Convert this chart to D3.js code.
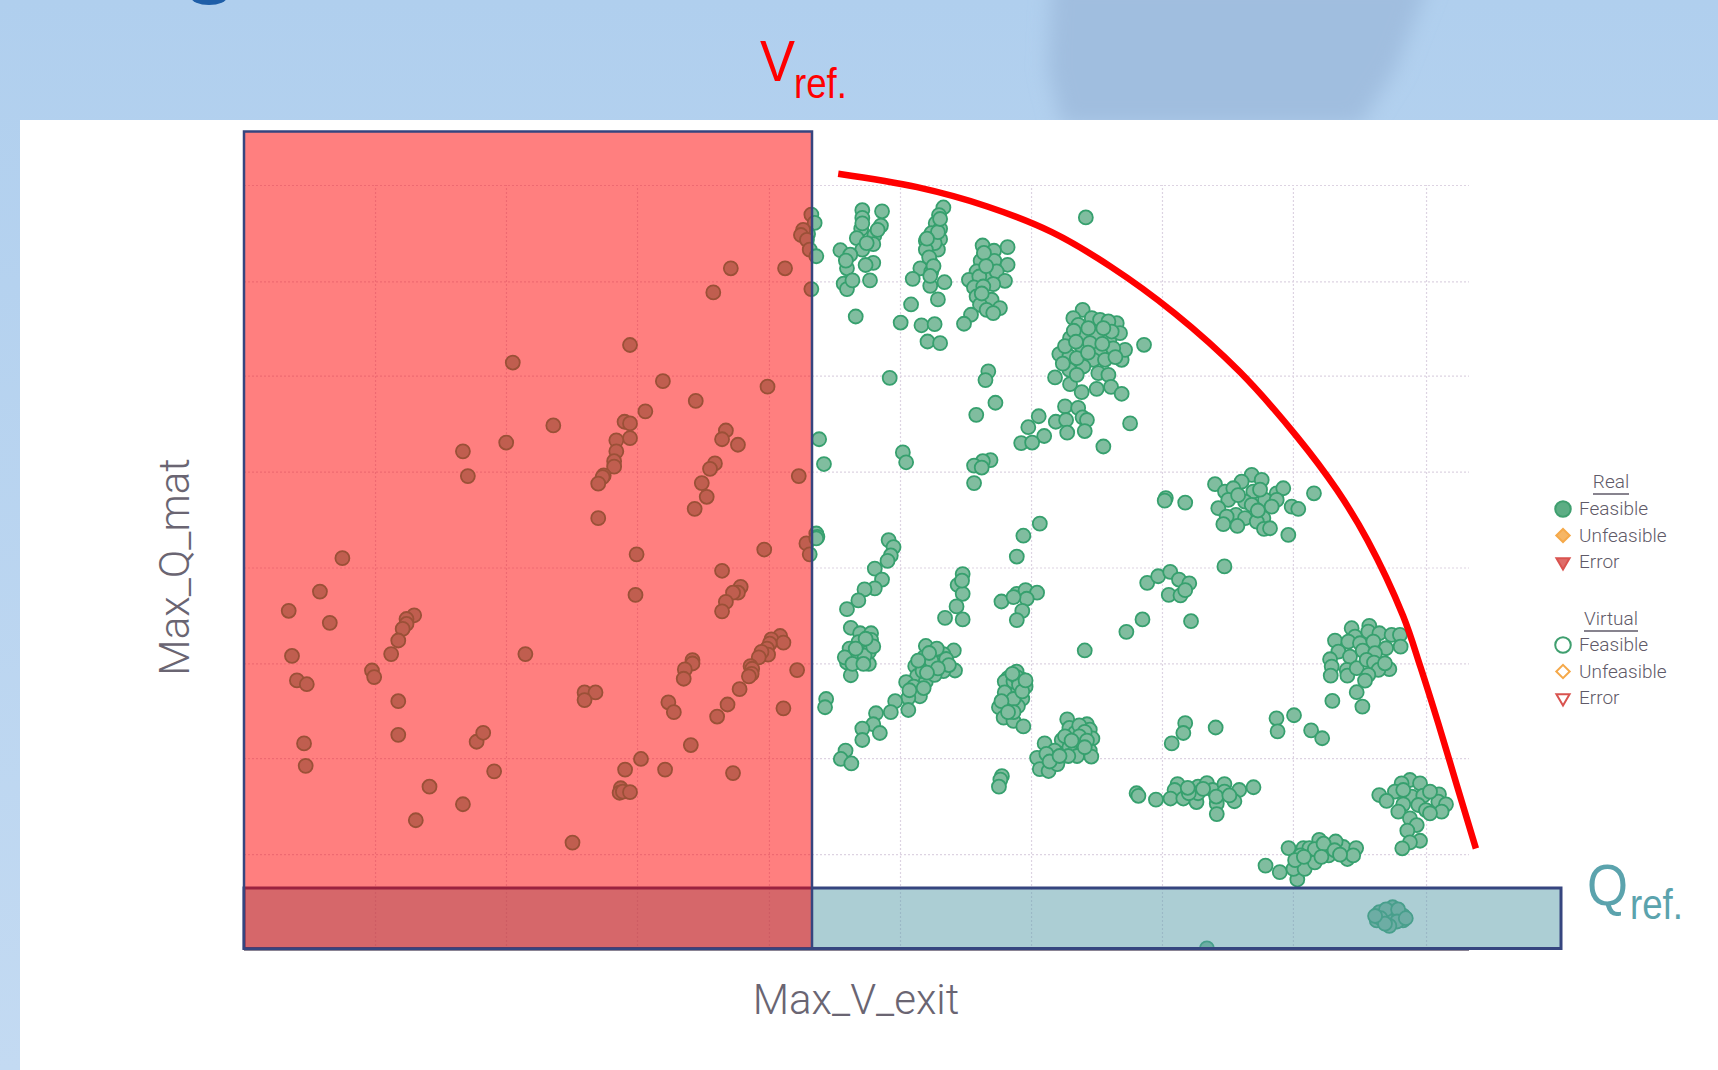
<!DOCTYPE html>
<html>
<head>
<meta charset="utf-8">
<script src="https://cdn.jsdelivr.net/npm/d3@7"></script>
<style>
  html, body { margin: 0; padding: 0; background: #fff; overflow: hidden; }
  svg { display: block; }
  .grid line { stroke: #ddd3e2; stroke-width: 1.2; stroke-dasharray: 2 2; }
  .grid path { display: none; }
  .legend text { font-family: Roboto, sans-serif; font-weight: 300; font-size: 19px; fill: #5f5a68; }
</style>
</head>
<body>
<script>
let w = 1718;
let h = 1070;

// no tick labels in the picture, so values are in units (y grows downward)
let vTicks = [342.3, 461.8, 581.4, 701.8, 821.4, 941, 1060.5, 1180, 1301.5];
let qTicks = [169, 257, 343, 430.5, 518, 605.5, 692, 779.5];

let limitCurve = [[765,158.7],[837,171],[901,188.6],[960,212],[1013,243],[1072,286],[1131,339],[1184,399],[1220,447],[1248,493],[1280.5,562],[1296.5,609],[1312.6,660],[1330,718],[1347,774.4]];

// inside the V_ref. band
let ptsLeft = [[312.5,509.5],[292,540],[263.5,557.5],[301,568.5],[378,561.6],[371,565],[371,569.5],[367.5,574],[363.5,584.6],[357,597],[266.5,598.7],[479.5,597],[339.5,612],[341.5,618],[271,621],[280,624.5],[363.5,640],[363.5,670.7],[277.5,678.5],[279,699],[435,677],[441,668.8],[451,704],[392,718],[422.5,734],[379.5,748.6],[522.5,769],[581,506],[580,543],[659,521],[697.5,501.6],[676,535.6],[673.5,541],[669,541],[662.5,549.4],[659,558],[712,580.5],[704,583.6],[715,586.5],[702.5,587.4],[700,592],[701,597.5],[695,595],[692.5,600],[685,608],[686.5,610.4],[686,615],[683.5,617.3],[727.5,611.6],[632,602.5],[632,605.6],[625,611],[624,619.5],[675,629],[664,643],[654.5,654],[715,646.5],[533.5,632],[543.5,632],[533.5,639],[610,641],[615,650],[630.5,680],[585,692.7],[570.5,702.4],[607,702.4],[669,705.6],[566.5,719.4],[565.5,723.5],[568.5,722.5],[575,723],
  [570,385],[575,386.5],[575,400],[562.5,402],[562.5,412],[560.5,421],[560.5,426],[551,434],[550,435.5],[546,441.5],[546,473],[589,375.5],[605,348],[635,366],[662.5,393],[659,401],[673.5,406],[652.5,423],[648,428],[640.5,441],[645,453.5],[634,464.5],[729,434.6],[700.5,353],[575,315],[468,331],[505,388.4],[462,404],[422.5,412],[427,434.6],[651,267],[667,245],[716.5,245],
  [740.5,196],[743.5,203.6],[737.5,213.7],[733,210],[731,214.6],[736.5,219],[739,228],[745,234],[740.5,264],[745,487],[746,490],[736,496],[745,491.5],[739,506]];

// upper part of the right side
let ptsUpper = [[787,192],[787,199],[805,193],[804,206],[786,209],[782,217.5],[798,215],[797,223],[787,228],[767,228.5],[776,232.6],[797,240],[790,242],[773,245],[770,259],[773,264],[778,256],[794,256],[772,238],[787,204],[801,210],[791,222],
  [861,189.5],[857,196.4],[854,204],[858,209],[845,220],[858,218.4],[856,228],[849,239],[840,245],[850,248],[833,254.6],[849,261],[862,257.7],[856,273.4],[831.5,278],[822,294.5],[841,297],[853,296],[846.5,311.8],[858,313.3],[781,289],[850,213],[853,222],[845,228],[856,212],[848,235],[852,243],[846,218],[858,200],[849,252],
  [896.8,224.2],[907.2,229],[919.6,225.7],[895,238.2],[907.5,238.2],[919.6,241.8],[891.3,247.9],[902,250.9],[909.6,247.9],[884.3,255.5],[893.8,252.5],[917.2,256.4],[888.9,262.5],[906.5,259.5],[897.4,261.6],[891.3,270.7],[905,273.7],[894.4,278.3],[912.6,281.3],[900.5,282.9],[906.5,285.9],[886.2,287.4],[879.8,295.6],[898,231],[900,243],[896,268],
  [988.1,282.9],[979.6,290.5],[984.2,296.6],[996.4,290.5],[1019.2,295.1],[1004,292],[1011.6,293.5],[976.6,308.7],[988.7,307.2],[1000.9,305.7],[1012.5,310.3],[1022.2,304.2],[987.2,316.3],[966.8,323.3],[976,325.5],[1004,320.9],[997.9,328.5],[1023.7,328.5],[1026.8,319.4],[988.7,334.6],[976,337.6],[1002.4,340.7],[1011.6,342.2],[962.9,344.6],[976.6,350.7],[987.2,358],[1000.9,355],[1014,353.2],[1023.7,359.5],[1044.1,314.8],[994.8,313.3],[1008.5,328.5],[982.7,327],[1014.6,302.7],[993.3,299.6],[1007,299.6],[982.7,342.2],[972,316],[980,302],[1016,318],[993,322],[982,312],[1006,314],[1018,326],[970,332],
  [972,371],[984,372.4],[948,380],[938.5,390],[963.6,385],[973,383.4],[988,381],[992,383.4],[974,395],[990,393.5],[953,398],[932,404.5],[942,404],[1031.4,386.5],[1007,407.6],
  [812,345],[902,339],[899.4,347],[908.5,367.7],[891,378.7],[747.6,401],[752,423.6],[824,413],[827,422],[904,420],[897,421],[889,425],[896,426.8],[889,441],[991,198.6],
  [1142.4,433.5],[1151.5,438.1],[1108.9,442],[1133.2,439.6],[1118,448.7],[1125.6,445.7],[1143.9,448.7],[1165.2,450.3],[1171.2,445.7],[1154.5,456.3],[1121,456.3],[1136.3,457.9],[1165.2,456.3],[1111.9,463.9],[1142.4,460.9],[1160.6,462.4],[1128,470],[1136.3,473],[1119.5,471.5],[1153,473],[1116.5,478.5],[1129.3,480.1],[1147,476.1],[1153.6,482.8],[1159.1,482.2],[1178.9,462.4],[1184.9,464.6],[1199.2,450.3],[1175.8,488.3],[1064,454.7],[1063,457],[1081.7,458.8],[1150,447],[1130,452],[1148,466]];

// lower part of the right side
let ptsLower = [[811,493],[815.5,499.4],[813,507],[810,512],[798.4,519],[805,529],[798.4,537],[789,538],[783.4,548],[773,556],[934,489],[928,508],[949,478],[1117.5,517],
  [878.6,524],[874,534],[878.6,542],[873,553.5],[862.5,564],[878.6,565.4],[878,530],[914,549],[928,542],[936,538.7],[946.5,541],[937,546.5],[933,557.6],[928,566],[925,545],
  [1047,532],[1057,526],[1068,522],[1076,529],[1085.4,532.4],[1066.7,543],[1077.4,543.4],[1081.7,538.7],[1042.7,565.4],[1028,576.7],[1087,567],[990,593.7],
  [776.5,573],[785,578],[795,578],[795,584],[783.5,586],[775.4,592],[786,592],[793,595],[773,604.7],[783.5,603],[793,606],[776.5,616.3],[779,598.4],[789,598.4],[771,600],[778,606],[788,606],[797,590],[790,583],[781,592],
  [870.5,593.7],[845,589.6],[861,597],[843.3,600],[858.3,604.7],[871.6,612],[835.3,608],[850,609.4],[861,612.5],[837,617],[827,622.6],[845,622],[834,626.7],[839.6,635.5],[829,637],[817,640],[813,650],[829,648],[799.5,651],[797,661],[787,665],[803,669],[787,675.4],[754,638],[753,645.5],[771.7,685],[767.4,692.7],[777,696.8],[853,616],[842,612.5],[863.6,601.5],[850,603],[855,592],[848,596],[866,607],[856,610],[846,614],[838,603],[830,630],[843,628],
  [927.8,613],[920,619],[933,620.4],[936,626.7],[922.4,630],[929,630],[933,637.7],[920,637.7],[911.7,645.5],[929,644.6],[916,655],[925,658],[934,663],[921,645.5],[917,622],[925,622],[928,618],[930,625],[917,632],[925,638],[914,640],[933,631],[925,650],[920,650],[936,621],[924,615],
  [974,656.5],[992,661],[976,664.4],[994.6,666],[981,669],[997,674],[953.4,678.5],[969,675.4],[987.6,678.5],[976,682],[994.6,685],[962.5,685],[983,690],[996,690.5],[946.5,691.7],[961.4,692.7],[949,702],[957,703.7],[965,697.4],[914.4,708.4],[913,711.5],[911.7,718],[985,662],[990,668],[985,672],[992,676],[972,672],[978,676],[990,682],[955,688],[958,695],[975,690],[967,690],
  [1081.7,660],[1080,669],[1069.4,678.5],[1109.5,664],[1165,655.6],[1181,652.8],[1166,667.5],[1196.6,666.6],[1206.7,673.8],
  [1233.6,573.4],[1249.7,571.3],[1218.4,584.7],[1236.7,581],[1248.8,576.5],[1258.9,578],[1270.1,579.5],[1277.7,579.5],[1278.3,590.2],[1230.6,585.6],[1241.2,587.1],[1253.4,585.6],[1265,591.7],[1221.5,594.7],[1232.1,599.3],[1243.7,593.8],[1254.9,596.2],[1213.9,601.7],[1215.4,608.4],[1214.5,616.6],[1229.1,611.5],[1229.7,616.6],[1238.2,609.9],[1247.3,602.3],[1254,604.8],[1268,610.8],[1258,611.5],[1248.8,616],[1245.8,621.2],[1238.2,631.8],[1216,639.7],[1243.4,644.9],[1264,605.4],
  [1037.3,724],[1039,726.3],[1055,729.8],[1074.7,715.6],[1072,721],[1068.3,728.8],[1080,728.8],[1092,732],[1093.4,718],[1093.4,724],[1101.5,714.7],[1106.8,721],[1117.5,715.6],[1117.5,722.5],[1131,721],[1126.6,731.3],[1110.5,733.5],[1110.5,743],[1144,718.5],[1098,720],[1085,724],[1110,727],[1122,726],[1084,719],
  [1155,790],[1168,796],[1184,802.7],[1180.5,793],[1190.7,793],[1176,774],[1189.6,774],[1195,774],[1187,780.7],[1204,766.5],[1200,787],[1213.7,773],[1212.6,780.7],[1226,773],[1237.7,774],[1229.7,784],[1235,780.7],[1219,768],[1200,775],[1208,770],[1218,776],[1206,782],[1223,780],[1182,785],[1190,782],
  [1286.8,711.9],[1296,714.9],[1279.2,714.9],[1273.1,722.5],[1258.8,725.6],[1265.5,731],[1288.4,727.1],[1299,726.2],[1313.3,725],[1280.7,734.1],[1294.4,734.7],[1301.4,739.3],[1312.7,731.7],[1319.7,734.1],[1315.7,740.8],[1305.1,742.3],[1276.2,740.8],[1286.8,746.9],[1293,753],[1284.4,758.1],[1296,767.3],[1286.8,768.8],[1279.8,774.2],[1280.7,721],[1305.1,722.5],
  [1271,828],[1259,832.5],[1272.5,834],[1280.5,835.7],[1256.5,840],[1270,842],[1280.5,840],[1264.5,837],[1265,830],[1276,830],[1260,838],[1275,841],[1268,845],[1283,838],[1264,843],[1255,836],[1101.5,865.5]];

let legendReal = ["Feasible", "Unfeasible", "Error"];
let legendVirtual = ["Feasible", "Unfeasible", "Error"];
let legendColors = ["#3f9f6f", "#f5a94a", "#d9534f"];
let legendSymbols = [d3.symbolCircle, d3.symbolSquare, d3.symbolTriangle];

let svg = d3.select("body")
  .append("svg")
  .attr("width", w)
  .attr("height", h);

// Slide background
let defs = svg.append("defs");
let blur = defs.append("filter").attr("id", "blur")
  .attr("x", "-20%").attr("y", "-20%").attr("width", "140%").attr("height", "140%");
blur.append("feGaussianBlur").attr("stdDeviation", 10);
let strip = defs.append("linearGradient").attr("id", "strip")
  .attr("x1", 0).attr("y1", 0).attr("x2", 0).attr("y2", 1);
strip.append("stop").attr("offset", "0%").attr("stop-color", "#b0cfee");
strip.append("stop").attr("offset", "100%").attr("stop-color", "#c3daf2");

svg.append("rect").attr("width", w).attr("height", h).attr("fill", "url(#strip)");
svg.append("path")
  .attr("d", "M1052,-20 L1430,-20 L1395,70 L1360,125 L1062,125 L1048,70 Z")
  .attr("fill", "#a0bedf")
  .attr("filter", "url(#blur)");
svg.append("ellipse")
  .attr("cx", 209).attr("cy", -3).attr("rx", 18).attr("ry", 8)
  .attr("fill", "#1e5ea8");
svg.append("rect")
  .attr("x", 20).attr("y", 120)
  .attr("width", w-20).attr("height", h-120)
  .attr("fill", "#fff");

// Scales
let xScale = d3.scaleLinear().domain([222.7, 1340.7]).range([244, 1469]);
let yScale = d3.scaleLinear().domain([169, 867]).range([185, 950]);

defs.append("clipPath").attr("id", "plot")
  .append("rect")
  .attr("x", 234).attr("y", 175)
  .attr("width", 1245).attr("height", 775);

// Grid
let xAxis = d3.axisBottom(xScale)
  .tickValues(vTicks)
  .tickSize(yScale(169) - yScale(867))
  .tickFormat("");
let yAxis = d3.axisLeft(yScale)
  .tickValues(qTicks)
  .tickSize(xScale(222.7) - xScale(1340.7))
  .tickFormat("");

svg.append("g")
  .attr("class", "grid")
  .attr("transform", "translate(0," + yScale(867) + ")")
  .call(xAxis);
svg.append("g")
  .attr("class", "grid")
  .attr("transform", "translate(" + xScale(222.7) + ",0)")
  .call(yAxis);
svg.append("line")
  .attr("x1", xScale(222.7)).attr("x2", xScale(1340.7))
  .attr("y1", yScale(867)).attr("y2", yScale(867))
  .attr("stroke", "#8a8494").attr("stroke-width", 2);

// Points
svg.append("g")
  .attr("clip-path", "url(#plot)")
  .selectAll("circle")
  .data(ptsLeft.concat(ptsUpper, ptsLower))
  .enter()
  .append("circle")
  .attr("cx", (d) => { return xScale(d[0]); })
  .attr("cy", (d) => { return yScale(d[1]); })
  .attr("r", 7)
  .attr("fill", "#80bd9f")
  .attr("stroke", "#36a06e")
  .attr("stroke-width", 1.8);

// Reference bands, red goes over teal
svg.append("rect")
  .attr("x", xScale(222.7)).attr("y", 888)
  .attr("width", 1561 - xScale(222.7)).attr("height", 60.5)
  .attr("fill", "rgb(90,158,170)").attr("fill-opacity", 0.5)
  .attr("stroke", "#36457f").attr("stroke-width", 3);
svg.append("rect")
  .attr("x", xScale(222.7)).attr("y", 131.5)
  .attr("width", 812 - xScale(222.7)).attr("height", 817)
  .attr("fill", "rgb(255,0,0)").attr("fill-opacity", 0.5)
  .attr("stroke", "#36457f").attr("stroke-width", 2.5);

// Limit curve
let curve = d3.line()
  .x((d) => { return xScale(d[0]); })
  .y((d) => { return yScale(d[1]); })
  .curve(d3.curveCatmullRom);
svg.append("path")
  .datum(limitCurve)
  .attr("d", curve)
  .attr("fill", "none")
  .attr("stroke", "#ff0000")
  .attr("stroke-width", 6.5);

// Axis labels
svg.append("text")
  .attr("x", 856).attr("y", 1014)
  .attr("text-anchor", "middle")
  .attr("font-family", "Roboto, sans-serif").attr("font-weight", 300)
  .attr("font-size", 42).attr("fill", "#6a6572")
  .text("Max_V_exit");
svg.append("text")
  .attr("transform", "translate(189,567) rotate(-90)")
  .attr("text-anchor", "middle")
  .attr("font-family", "Roboto, sans-serif").attr("font-weight", 300)
  .attr("font-size", 42).attr("fill", "#6a6572")
  .text("Max_Q_mat");

// Annotations
function refLabel(x, y, big, color, bigWidth, smallX, smallY) {
  svg.append("text")
    .attr("x", x).attr("y", y)
    .attr("font-family", "Liberation Sans, sans-serif")
    .attr("font-size", 57).attr("fill", color)
    .attr("textLength", bigWidth).attr("lengthAdjust", "spacingAndGlyphs")
    .text(big);
  svg.append("text")
    .attr("x", smallX).attr("y", smallY)
    .attr("font-family", "Liberation Sans, sans-serif")
    .attr("font-size", 42).attr("fill", color)
    .attr("textLength", 53).attr("lengthAdjust", "spacingAndGlyphs")
    .text("ref.");
}
refLabel(760, 81, "V", "#ff0000", 35, 794, 98);
refLabel(1587, 905, "Q", "#5ba3ad", 41, 1630, 919);

// Legend
let symbol = d3.symbol();
function legendBlock(title, titleY, lineX1, lineX2, rows, rowY, filled) {
  let g = svg.append("g").attr("class", "legend");
  g.append("text")
    .attr("x", (lineX1 + lineX2) / 2).attr("y", titleY)
    .attr("text-anchor", "middle")
    .text(title);
  g.append("line")
    .attr("x1", lineX1).attr("x2", lineX2)
    .attr("y1", titleY + 6).attr("y2", titleY + 6)
    .attr("stroke", "#5f5a68").attr("stroke-width", 1.5);
  rows.forEach((name, i) => {
    let yy = rowY + i * 26.5;
    let t = "translate(1563," + yy + ")";
    if (i == 1) t += " rotate(45)";
    if (i == 2) t += " rotate(180)";
    g.append("path")
      .attr("d", symbol.type(legendSymbols[i]).size(i == 0 ? 190 : (i == 1 ? 90 : 75))())
      .attr("transform", t)
      .attr("fill", filled ? legendColors[i] : "none")
      .attr("fill-opacity", 0.85)
      .attr("stroke", legendColors[i])
      .attr("stroke-width", 2);
    g.append("text")
      .attr("x", 1579).attr("y", yy + 6)
      .text(name);
  });
}
legendBlock("Real", 488, 1593, 1629, legendReal, 509, true);
legendBlock("Virtual", 625, 1584, 1638, legendVirtual, 645, false);
</script>
</body>
</html>
